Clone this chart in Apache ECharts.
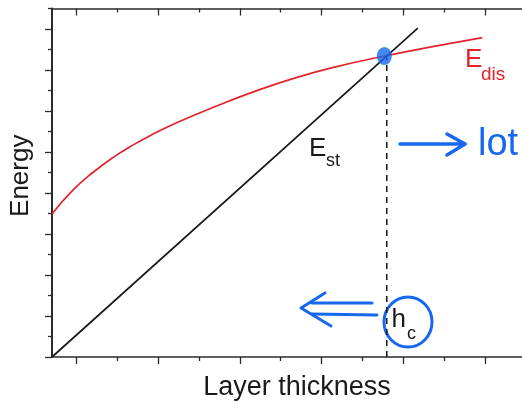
<!DOCTYPE html>
<html>
<head>
<meta charset="utf-8">
<script src="https://cdn.jsdelivr.net/npm/echarts@6/dist/echarts.min.js"></script>
<style>
  html, body { margin: 0; padding: 0; background: #fff; }
  #main { width: 522px; height: 411px; }
</style>
</head>
<body>
<div id="main"></div>
<script>
var chartDom = document.getElementById('main');
var myChart = echarts.init(chartDom, null, { renderer: 'canvas' });
var option;

// dislocation energy curve (E_dis)
const disX = [0, 0.25, 0.5, 0.75, 1.0, 1.25, 1.5, 2.0, 2.5, 3.0, 3.5, 4.0, 4.5, 5.0, 5.27];
const disY = [3.49, 4.06, 4.50, 4.87, 5.18, 5.45, 5.69, 6.11, 6.49, 6.82, 7.09, 7.31, 7.51, 7.69, 7.79];

// strain energy line (E_st)
const stX = [0, 4.48];
const stY = [0, 8.02];

// critical thickness h_c
const hcX = 4.1;
const hcTop = 7.33;
const crossPoint = [4.07, 7.34];

// ticks
const xMajor = [0.3, 1.3, 2.3, 3.3, 4.3, 5.3];
const xMinor = [0.8, 1.8, 2.8, 3.8, 4.8];
const yMajor = [0, 1, 2, 3, 4, 5, 6, 7, 8];
const yMinor = [0.5, 1.5, 2.5, 3.5, 4.5, 5.5, 6.5, 7.5, 8.5];

const FONT = "'Liberation Sans', Arial, sans-serif";
const AXIS = '#2b2b2b';
const RED = '#e3232b';
const BLUE = '#1768ee';

function xAx(pos, ticks, len, inside, line, extra) {
    return Object.assign({
        type: 'value',
        position: pos,
        min: 0,
        max: 5.756,
        axisLine: { show: line, onZero: false, lineStyle: { color: AXIS, width: 1.5 } },
        axisTick: { show: true, inside: inside, length: len, customValues: ticks, lineStyle: { color: AXIS, width: 1.3 } },
        axisLabel: { show: false },
        splitLine: { show: false }
    }, extra || {});
}
function yAx(ticks, len, line, extra) {
    return Object.assign({
        type: 'value',
        position: 'left',
        min: 0,
        max: 8.5,
        axisLine: { show: line, onZero: false, lineStyle: { color: AXIS, width: 2 } },
        axisTick: { show: true, inside: false, length: len, customValues: ticks, lineStyle: { color: AXIS, width: 1.3 } },
        axisLabel: { show: false },
        splitLine: { show: false }
    }, extra || {});
}

option = {
    backgroundColor: '#fff',
    animation: false,
    grid: { left: 49.5, top: 8.5, bottom: 54, right: 0 },
    xAxis: [
        xAx('bottom', xMajor, 7, false, true, {
            name: 'Layer thickness',
            nameLocation: 'middle',
            nameGap: 17,
            nameTextStyle: { fontSize: 27, fontFamily: FONT, color: '#1a1a1a', padding: [0, 0, 0, 20] }
        }),
        xAx('bottom', xMinor, 4, false, false),
        xAx('top', xMajor, 7, true, true),
        xAx('top', xMinor, 4, true, false)
    ],
    yAxis: [
        yAx(yMajor, 7, true, {
            name: 'Energy',
            nameLocation: 'middle',
            nameGap: 18,
            nameTextStyle: { fontSize: 26, fontFamily: FONT, color: '#1a1a1a', padding: [0, 0, 0, 14] }
        }),
        yAx(yMinor, 4, false)
    ],
    series: [
        {
            name: 'E_dis',
            type: 'line',
            smooth: true,
            showSymbol: false,
            lineStyle: { color: RED, width: 1.7 },
            data: disX.map((x, i) => [x, disY[i]])
        },
        {
            name: 'E_st',
            type: 'line',
            showSymbol: false,
            lineStyle: { color: '#1a1a1a', width: 1.7 },
            data: stX.map((x, i) => [x, stY[i]])
        },
        {
            name: 'h_c',
            type: 'line',
            showSymbol: false,
            lineStyle: { color: '#1a1a1a', width: 1.5, type: [6, 5] },
            data: [[hcX, 0], [hcX, hcTop]]
        },
        {
            name: 'cross',
            type: 'scatter',
            symbol: 'circle',
            symbolSize: [15, 18],
            itemStyle: { color: BLUE },
            data: [crossPoint],
            z: 5
        }
    ],
    graphic: [
        // curve labels
        { type: 'text', x: 465, y: 60, style: { text: 'E', fontSize: 26, fontFamily: FONT, fill: RED, verticalAlign: 'middle' } },
        { type: 'text', x: 481, y: 74.5, style: { text: 'dis', fontSize: 19, fontFamily: FONT, fill: RED, verticalAlign: 'middle' } },
        { type: 'text', x: 309, y: 149, style: { text: 'E', fontSize: 26, fontFamily: FONT, fill: '#1a1a1a', verticalAlign: 'middle' } },
        { type: 'text', x: 326, y: 161.5, style: { text: 'st', fontSize: 18, fontFamily: FONT, fill: '#1a1a1a', verticalAlign: 'middle' } },
        { type: 'text', x: 391.5, y: 320, style: { text: 'h', fontSize: 26, fontFamily: FONT, fill: '#1a1a1a', verticalAlign: 'middle' } },
        { type: 'text', x: 407, y: 334.5, style: { text: 'c', fontSize: 18, fontFamily: FONT, fill: '#1a1a1a', verticalAlign: 'middle' } },
        // hand-drawn blue notes
        { type: 'polyline', shape: { points: [[400, 144], [465, 144]] }, style: { stroke: BLUE, lineWidth: 3.5, lineCap: 'round', fill: null } },
        { type: 'polyline', shape: { points: [[447, 134], [465, 144], [447, 155]] }, style: { stroke: BLUE, lineWidth: 3.5, lineCap: 'round', lineJoin: 'round', fill: null } },
        { type: 'text', x: 478, y: 144.5, style: { text: 'lot', fontSize: 38, fontFamily: FONT, fill: BLUE, verticalAlign: 'middle' } },
        { type: 'polyline', shape: { points: [[312, 303], [372, 303]] }, style: { stroke: BLUE, lineWidth: 3, lineCap: 'round', fill: null } },
        { type: 'polyline', shape: { points: [[312, 314], [377, 315]] }, style: { stroke: BLUE, lineWidth: 3, lineCap: 'round', fill: null } },
        { type: 'polyline', shape: { points: [[325, 293], [301, 308], [331, 326]] }, style: { stroke: BLUE, lineWidth: 3, lineCap: 'round', lineJoin: 'round', fill: null } },
        { type: 'ellipse', shape: { cx: 408, cy: 322, rx: 24, ry: 25 }, style: { stroke: BLUE, lineWidth: 3, fill: null } }
    ]
};
option && myChart.setOption(option);
</script>
</body>
</html>
